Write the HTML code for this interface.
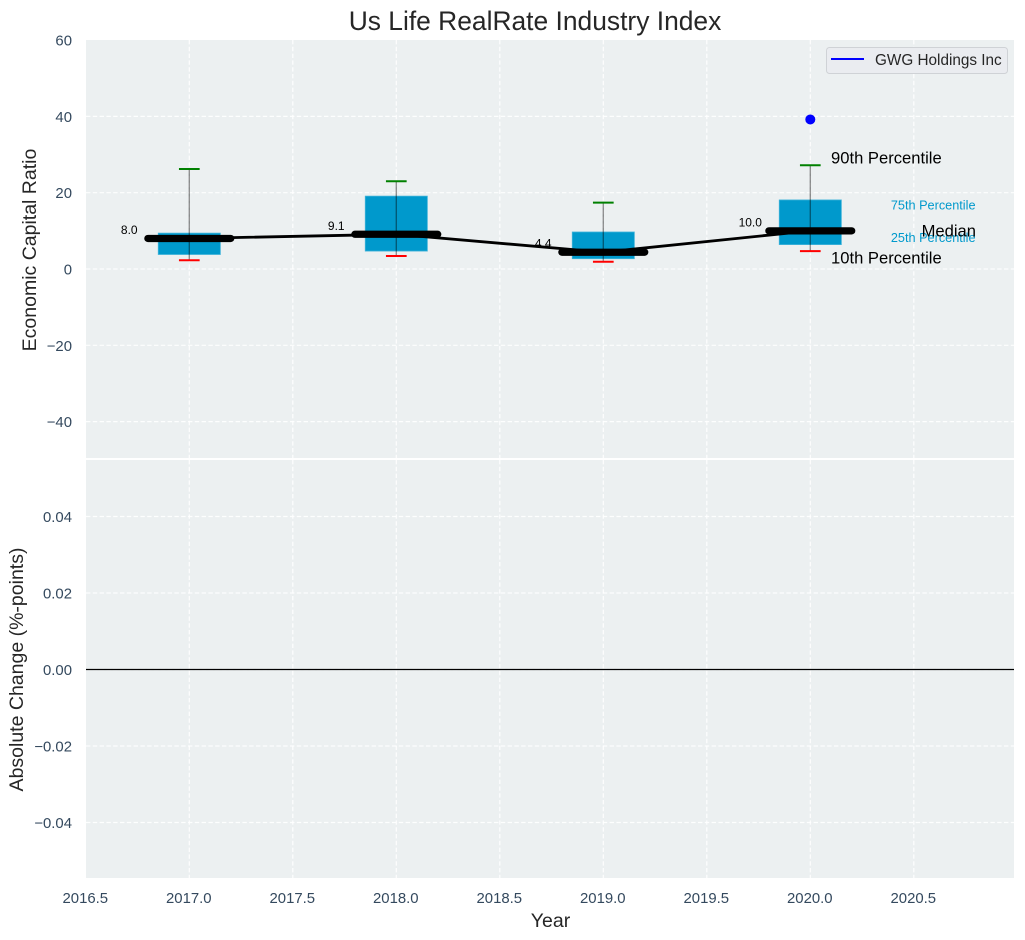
<!DOCTYPE html>
<html>
<head>
<meta charset="utf-8">
<title>Us Life RealRate Industry Index</title>
<style>
html,body{margin:0;padding:0;background:#fff;}
svg{display:block;font-family:"Liberation Sans",Arial,sans-serif;}
</style>
</head>
<body>
<svg id="chart" width="1025" height="940" viewBox="0 0 1025 940" xmlns="http://www.w3.org/2000/svg">
<text x="535" y="30" font-size="26.4" fill="#262626" text-anchor="middle">Us Life RealRate Industry Index</text>
<text transform="translate(36,250) rotate(-90)" font-size="19.5" fill="#262626" text-anchor="middle">Economic Capital Ratio</text>
<text transform="translate(23,669.5) rotate(-90)" font-size="19.5" fill="#262626" text-anchor="middle">Absolute Change (%-points)</text>
<text x="550.5" y="927" font-size="19.5" fill="#262626" text-anchor="middle">Year</text>
</svg>
<script>
const years = [2017, 2018, 2019, 2020];
const p90 = [26.2, 23.0, 17.4, 27.2];
const q75 = [9.4, 19.1, 9.7, 18.1];
const medians = [8.0, 9.1, 4.4, 10.0];
const q25 = [3.8, 4.7, 2.7, 6.4];
const p10 = [2.3, 3.4, 1.9, 4.7];
const medianLabels = ["8.0", "9.1", "4.4", "10.0"];
const companyYears = [2020];
const companyValues = [39.2];
const companyName = "GWG Holdings Inc";
const xTicks = [2016.5, 2017, 2017.5, 2018, 2018.5, 2019, 2019.5, 2020, 2020.5];
const xTickLabels = ["2016.5", "2017.0", "2017.5", "2018.0", "2018.5", "2019.0", "2019.5", "2020.0", "2020.5"];
const topTicks = [60, 40, 20, 0, -20, -40];
const topTickLabels = ["60", "40", "20", "0", "\u221220", "\u221240"];
const bottomTicks = [0.04, 0.02, 0, -0.02, -0.04];
const bottomTickLabels = ["0.04", "0.02", "0.00", "\u22120.02", "\u22120.04"];
const changeZero = [0];

const svg = document.getElementById('chart');
const NS = 'http://www.w3.org/2000/svg';
const L = 86, R = 1014, T1 = 40, B1 = 458, T2 = 460, B2 = 878;
const xs = v => 189.3 + (v - 2017) * 207;
const y1 = v => 269 - v * 3.815;
const y2 = v => 669.5 - v * 3825;

function mk(tag, attrs, text) {
  const e = document.createElementNS(NS, tag);
  for (const k in attrs) e.setAttribute(k, attrs[k]);
  if (text !== undefined) e.textContent = text;
  svg.appendChild(e);
  return e;
}
function gridAttrs(a) {
  return Object.assign({stroke: '#fff', 'stroke-width': 1.2, 'stroke-dasharray': '4.4,2.4', 'stroke-opacity': 0.9}, a);
}

let el;
el = mk('rect', {x: L, y: T1, width: R - L, height: B1 - T1, fill: '#ecf0f1'});


el = mk('rect', {x: L, y: T2, width: R - L, height: B2 - T2, fill: '#ecf0f1'});



xTicks.forEach((t, i) => {
  const x = xs(t);
  if (i > 0) {
    el = mk('line', gridAttrs({x1: x, x2: x, y1: T1, y2: B1}));
    
    
    el = mk('line', gridAttrs({x1: x, x2: x, y1: T2, y2: B2}));
    
    
  }
  el = mk('text', {x: x - 0.5, y: 903, 'font-size': 14.9, fill: '#34495e', 'text-anchor': 'middle'}, xTickLabels[i]);
  
  
});
topTicks.forEach((t, i) => {
  const y = y1(t);
  if (i > 0) {
    el = mk('line', gridAttrs({x1: L, x2: R, y1: y, y2: y}));
    
    
  }
  el = mk('text', {x: 72, y: y + 5.5, 'font-size': 14.9, fill: '#34495e', 'text-anchor': 'end'}, topTickLabels[i]);
  
  
});
bottomTicks.forEach((t, i) => {
  const y = y2(t);
  el = mk('line', gridAttrs({x1: L, x2: R, y1: y, y2: y}));
  
  
  el = mk('text', {x: 72, y: y + 5.5, 'font-size': 14.9, fill: '#34495e', 'text-anchor': 'end'}, bottomTickLabels[i]);
  
  
});

changeZero.forEach(v => {
  el = mk('line', {x1: L, x2: R, y1: y2(v), y2: y2(v), stroke: '#000', 'stroke-width': 1.3});
  
  
});

years.forEach((yr, i) => {
  const x = xs(yr);
  el = mk('rect', {x: xs(yr - 0.15), y: y1(q75[i]), width: xs(yr + 0.15) - xs(yr - 0.15), height: y1(q25[i]) - y1(q75[i]), fill: '#0099cc', stroke: '#3fb3d9', 'stroke-width': 0.8});
  
  
  el = mk('line', {x1: x, x2: x, y1: y1(p90[i]), y2: y1(p10[i]), stroke: '#000', 'stroke-opacity': 0.42, 'stroke-width': 1.4});
  
  
  el = mk('line', {x1: xs(yr - 0.05), x2: xs(yr + 0.05), y1: y1(p90[i]), y2: y1(p90[i]), stroke: '#008000', 'stroke-width': 2});
  
  
  el = mk('line', {x1: xs(yr - 0.05), x2: xs(yr + 0.05), y1: y1(p10[i]), y2: y1(p10[i]), stroke: '#ff0000', 'stroke-width': 2});
  
  
});

el = mk('polyline', {points: years.map((yr, i) => xs(yr) + ',' + y1(medians[i])).join(' '), fill: 'none', stroke: '#000', 'stroke-width': 2.8});



years.forEach((yr, i) => {
  el = mk('line', {x1: xs(yr - 0.2), x2: xs(yr + 0.2), y1: y1(medians[i]), y2: y1(medians[i]), stroke: '#000', 'stroke-width': 7.3, 'stroke-linecap': 'round'});
  
  
  el = mk('text', {x: xs(yr - 0.29), y: y1(medians[i]) - 4.5, 'font-size': 12, fill: '#000', 'text-anchor': 'middle'}, medianLabels[i]);
  
  
});

companyYears.forEach((yr, i) => {
  el = mk('circle', {cx: xs(yr), cy: y1(companyValues[i]), r: 5, fill: '#0000ff'});
  
  
});

const last = years.length - 1;
const annX = xs(years[last] + 0.1);
const annR = 976;
el = mk('text', {x: annX, y: y1(p90[last]) - 1.5, 'font-size': 16.6, fill: '#000'}, '90th Percentile');


el = mk('text', {x: annX, y: y1(p10[last]) + 12.5, 'font-size': 16.6, fill: '#000'}, '10th Percentile');


el = mk('text', {x: annR - 0.5, y: y1(q75[last]) + 9.5, 'font-size': 12.7, fill: '#0099cc', 'text-anchor': 'end'}, '75th Percentile');


el = mk('text', {x: annR - 0.5, y: y1(q25[last]) - 2.5, 'font-size': 12.7, fill: '#0099cc', 'text-anchor': 'end'}, '25th Percentile');


el = mk('text', {x: annR, y: y1(medians[last]) + 5.5, 'font-size': 16.6, fill: '#000', 'text-anchor': 'end'}, 'Median');



el = mk('rect', {x: 826.5, y: 47.5, width: 181, height: 26, rx: 3, fill: '#eaecf0', stroke: '#cfd2d6', 'stroke-width': 1});


el = mk('line', {x1: 831, x2: 864, y1: 59, y2: 59, stroke: '#0000ff', 'stroke-width': 2});


el = mk('text', {x: 875, y: 65, 'font-size': 15.3, fill: '#262626'}, companyName);


</script>
</body>
</html>
